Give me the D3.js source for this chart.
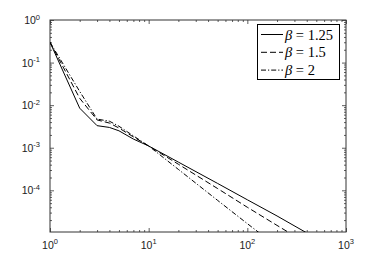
<!DOCTYPE html>
<html>
<head>
<meta charset="utf-8">
<script src="https://cdn.jsdelivr.net/npm/d3@7"></script>
<style>
  body { margin: 0; background: #fff; }
  svg { display: block; }
  .ticklab { font-family: "Liberation Sans", Arial, sans-serif; font-size: 10.5px; fill: #222; }
  .leg { font-family: "Liberation Serif", "DejaVu Serif", serif; font-size: 14.5px; fill: #000; }
</style>
</head>
<body>
<div id="chart"></div>
<script>
// values (x = index, y = probability)
const xs125 = [1, 2, 3, 4, 5, 7, 10, 20, 50, 100, 200, 400];
const ys125 = [0.3, 0.0085, 0.0033, 0.0030, 0.0025, 0.0016, 0.0011, 4.6e-4, 1.45e-4, 6.0e-5, 2.5e-5, 1.0e-5];

const xs15 = [1, 2, 3, 4, 5, 7, 10, 20, 50, 100, 200, 300];
const ys15 = [0.3, 0.0145, 0.0045, 0.0038, 0.0029, 0.0018, 0.0011, 4.1e-4, 1.1e-4, 4.0e-5, 1.5e-5, 8.5e-6];

const xs2 = [1, 2, 3, 4, 5, 7, 10, 20, 50, 100, 150];
const ys2 = [0.3, 0.021, 0.0047, 0.0042, 0.0032, 0.0019, 0.0011, 3.1e-4, 5.8e-5, 1.65e-5, 8.0e-6];

const seriesLabels = ["1.25", "1.5", "2"];
const xMajor = [1, 10, 100, 1000];
const yMajor = [1, 0.1, 0.01, 0.001, 1e-4];
const xExp = ["0", "1", "2", "3"];
const yExp = ["0", "-1", "-2", "-3", "-4"];

const series = [
  { label: seriesLabels[0], x: xs125, y: ys125, dash: null },
  { label: seriesLabels[1], x: xs15, y: ys15, dash: "6,3" },
  { label: seriesLabels[2], x: xs2, y: ys2, dash: "5,2,1.2,2" },
];

const width = 382,
  height = 261;
const mLeft = 50, mRight = 346, mTop = 20, mBottom = 232;

const svg = d3
  .select("#chart")
  .append("svg")
  .attr("width", width)
  .attr("height", height);

const x = d3.scaleLog().domain([1, 1000]).range([mLeft, mRight]);
const y = d3.scaleLog().domain([1.05e-5, 1]).range([mBottom, mTop]);

// minor ticks 2..9 in each decade
const xMinor = [];
[1, 10, 100].forEach(d => { for (let k = 2; k <= 9; k++) xMinor.push(d * k); });
const yMinor = [];
[1e-5, 1e-4, 1e-3, 1e-2, 1e-1].forEach(d => { for (let k = 2; k <= 9; k++) if (d * k >= y.domain()[0]) yMinor.push(d * k); });

svg.append("defs").append("clipPath").attr("id", "clip")
  .append("rect")
  .attr("x", mLeft).attr("y", mTop)
  .attr("width", mRight - mLeft).attr("height", mBottom - mTop);

const axisColor = "#333";

function tickAxis(axis, transform) {
  const g = svg.append("g").attr("transform", transform).call(axis);
  g.select(".domain").remove();
  g.selectAll("line").attr("stroke", axisColor).attr("stroke-width", 0.8);
  g.selectAll("text").remove();
}

tickAxis(d3.axisBottom(x).tickValues(xMajor).tickSize(-4), `translate(0,${mBottom})`);
tickAxis(d3.axisBottom(x).tickValues(xMinor).tickSize(-2), `translate(0,${mBottom})`);
tickAxis(d3.axisTop(x).tickValues(xMajor).tickSize(-4), `translate(0,${mTop})`);
tickAxis(d3.axisTop(x).tickValues(xMinor).tickSize(-2), `translate(0,${mTop})`);
tickAxis(d3.axisLeft(y).tickValues(yMajor).tickSize(-4), `translate(${mLeft},0)`);
tickAxis(d3.axisLeft(y).tickValues(yMinor).tickSize(-2), `translate(${mLeft},0)`);
tickAxis(d3.axisRight(y).tickValues(yMajor).tickSize(-4), `translate(${mRight},0)`);
tickAxis(d3.axisRight(y).tickValues(yMinor).tickSize(-2), `translate(${mRight},0)`);

svg
  .append("rect")
  .attr("x", mLeft)
  .attr("y", mTop)
  .attr("width", mRight - mLeft)
  .attr("height", mBottom - mTop)
  .attr("fill", "none")
  .attr("stroke", axisColor)
  .attr("stroke-width", 1);

// tick labels 10^n
xMajor.forEach((v, i) => {
  const t = svg.append("text")
    .attr("class", "ticklab")
    .attr("x", x(v))
    .attr("y", mBottom + 16.5)
    .attr("text-anchor", "middle");
  t.append("tspan").text("10");
  t.append("tspan").attr("dy", -4.5).attr("font-size", "7.5px").text(xExp[i]);
});

yMajor.forEach((v, i) => {
  const t = svg.append("text")
    .attr("class", "ticklab")
    .attr("x", 40)
    .attr("y", y(v) + 4)
    .attr("text-anchor", "end");
  t.append("tspan").text("10");
  t.append("tspan").attr("dy", -4.5).attr("font-size", "7.5px").text(yExp[i]);
});

// curves
const line = d3
  .line()
  .x(d => x(d[0]))
  .y(d => y(d[1]));

const plot = svg.append("g").attr("clip-path", "url(#clip)");

series.forEach(s => {
  plot
    .append("path")
    .datum(s.x.map((v, i) => [v, s.y[i]]))
    .attr("fill", "none")
    .attr("stroke", "#000")
    .attr("stroke-width", 1)
    .attr("stroke-dasharray", s.dash)
    .attr("d", line);
});

// legend
const legX = 257, legY = 24, legW = 82, legH = 55;
svg
  .append("rect")
  .attr("x", legX + 0.5)
  .attr("y", legY + 0.5)
  .attr("width", legW)
  .attr("height", legH)
  .attr("fill", "#fff")
  .attr("stroke", "#000")
  .attr("stroke-width", 1);

series.forEach((s, i) => {
  const cy = legY + 10.5 + i * 17.8;
  svg
    .append("line")
    .attr("x1", legX + 4)
    .attr("x2", legX + 26)
    .attr("y1", cy)
    .attr("y2", cy)
    .attr("stroke", "#000")
    .attr("stroke-width", 1)
    .attr("stroke-dasharray", s.dash);
  const t = svg
    .append("text")
    .attr("class", "leg")
    .attr("x", legX + 28)
    .attr("y", cy + 5);
  t.append("tspan").attr("font-style", "italic").text("β");
  t.append("tspan").text(" = " + s.label);
});
</script>
</body>
</html>
